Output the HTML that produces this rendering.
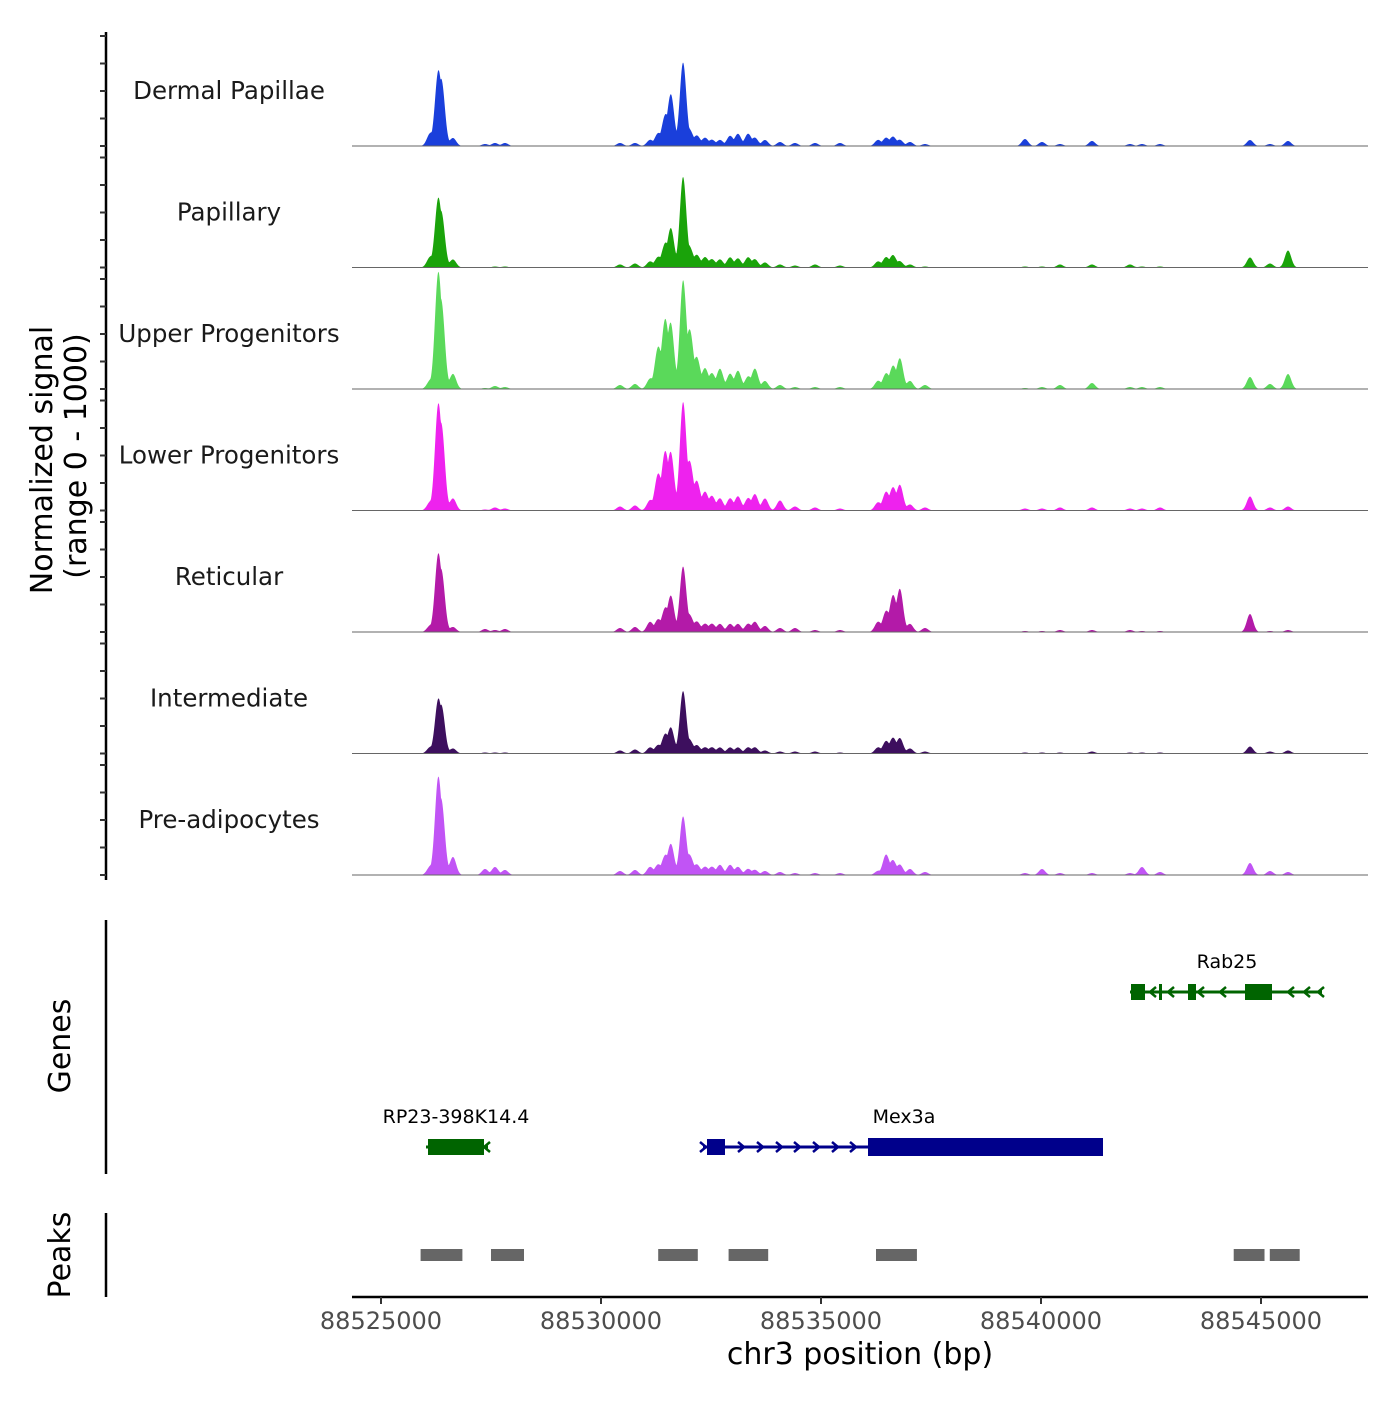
<!DOCTYPE html>
<html><head><meta charset="utf-8"><style>
body{margin:0;background:#fff}
svg text{font-family:"DejaVu Sans","Liberation Sans",sans-serif}
</style></head><body>
<svg id="chart" width="1400" height="1400" xmlns="http://www.w3.org/2000/svg">
<g id="tracks"></g>
<g id="yaxis"></g>
<text transform="translate(52,460) rotate(-90)" text-anchor="middle" font-size="30" fill="#000">Normalized signal</text>
<text transform="translate(86,456) rotate(-90)" text-anchor="middle" font-size="30" fill="#000">(range 0 - 1000)</text>
<g id="genes"></g>
<line x1="106" y1="920" x2="106" y2="1174" stroke="#000" stroke-width="2.5"/>
<text transform="translate(70,1046) rotate(-90)" text-anchor="middle" font-size="30">Genes</text>
<g id="peaks"></g>
<line x1="106" y1="1213" x2="106" y2="1297" stroke="#000" stroke-width="2.5"/>
<text transform="translate(70,1255) rotate(-90)" text-anchor="middle" font-size="30">Peaks</text>
<g id="xaxis"></g>
<text x="860" y="1364" text-anchor="middle" font-size="30">chr3 position (bp)</text>
</svg>
<script>
const trackNames = ["Dermal Papillae","Papillary","Upper Progenitors","Lower Progenitors","Reticular","Intermediate","Pre-adipocytes"];
const trackColors = ["#1a3fdb","#1aa30a","#5ad95a","#ee22ee","#b31aa8","#3d0f5e","#c154f5"];
const peakPos = [88526114,88526295,88526386,88526636,88527364,88527591,88527818,88530432,88530773,88531114,88531295,88531455,88531591,88531864,88532023,88532182,88532364,88532523,88532705,88532932,88533114,88533341,88533500,88533727,88534068,88534409,88534864,88535432,88536295,88536477,88536636,88536795,88537023,88537364,88539636,88540023,88540432,88541159,88542023,88542295,88542705,88544750,88545205,88545614];
const sigDermal = [12,66,55,8,2,3,3,3,3,6,12,28,50,83,14,10,8,6,6,10,12,12,8,6,4,3,3,3,6,8,9,6,4,2,7,4,2,5,2,2,2,6,2,5];
const sigPapillary = [10,62,45,8,0,1,1,3,4,6,10,22,38,90,18,12,10,8,8,10,9,10,8,5,3,2,3,2,6,10,12,6,3,1,1,1,3,3,3,1,1,10,4,17];
const sigUpper = [8,105,70,15,1,3,2,4,5,10,40,65,62,107,55,30,20,15,20,15,18,12,20,8,4,2,2,2,8,15,22,30,8,4,1,2,4,6,2,2,2,12,5,15];
const sigLower = [8,95,70,12,1,3,2,4,5,10,35,55,55,107,45,28,18,14,12,12,14,12,16,12,10,4,3,2,8,18,22,25,6,3,2,2,3,3,2,2,3,14,3,4];
const sigReticular = [6,70,50,5,3,2,3,4,5,10,12,22,35,65,15,10,8,8,8,8,8,8,10,6,4,4,2,2,10,20,35,42,8,4,1,1,2,2,2,1,1,18,1,2];
const sigIntermediate = [6,48,40,5,1,1,1,3,4,6,8,18,25,62,12,8,6,6,6,6,6,6,6,3,2,2,2,1,6,12,15,15,5,2,1,1,1,2,1,1,1,7,2,3];
const sigPreadipo = [8,88,60,18,6,8,5,4,5,8,10,18,30,58,18,10,8,8,10,10,8,6,5,4,3,2,2,2,4,20,14,10,6,3,2,6,2,2,2,8,3,12,4,3];
const allSignals = [sigDermal,sigPapillary,sigUpper,sigLower,sigReticular,sigIntermediate,sigPreadipo];
const xTicks = [88525000,88530000,88535000,88540000,88545000];
const peakRegions = [[88525900,88526850],[88527500,88528250],[88531300,88532200],[88532900,88533800],[88536250,88537180],[88544380,88545080],[88545200,88545880]];

const NS="http://www.w3.org/2000/svg";
const X0=352,X1=1368,BP0=88524341,BP1=88547432;
const xs=bp=>X0+(bp-BP0)/(BP1-BP0)*(X1-X0);
const ys=v=>v*1.0;
const baseY=i=>146+i*121.5;
function mk(tag,attrs,parent){const e=document.createElementNS(NS,tag);for(const k in attrs)e.setAttribute(k,attrs[k]);parent.appendChild(e);return e;}

const tg=document.getElementById('tracks');
allSignals.forEach((sig,ti)=>{
  const b=baseY(ti);
  let d=`M${X0},${b}`;
  for(let px=X0;px<=X1;px+=0.5){
    let v=0,s=0;
    sig.forEach((h,k)=>{const dx=px-xs(peakPos[k]);const g=ys(h)*Math.exp(-dx*dx/(2*3.2*3.2));if(g>v)v=g;s+=g;});
    v=v+0.35*(s-v);
    d+=`L${px},${(b-v).toFixed(2)}`;
  }
  d+=`L${X1},${b}Z`;
  const p=mk('path',{d:d,fill:trackColors[ti]},tg);
  
  
  const bl=mk('line',{x1:X0,x2:X1,y1:b,y2:b,stroke:'#666','stroke-width':1},tg);
  
  
  const t=mk('text',{x:229,y:b-47,'text-anchor':'middle','font-size':24.5,fill:'#1a1a1a'},tg);
  t.textContent=trackNames[ti];
  
  
});

const ya=document.getElementById('yaxis');
const yl=mk('line',{x1:106,x2:106,y1:32,y2:880,stroke:'#000','stroke-width':2.5},ya);


for(let ti=0;ti<7;ti++){for(let q=0;q<5;q++){const y=baseY(ti)-q*27.5;
  const tk=mk('line',{x1:100,x2:106,y1:y,y2:y,stroke:'#333','stroke-width':2},ya);
  
  }}

const gg=document.getElementById('genes');
function gene(name,x1,x2,y,color,exons,arrows,dir,lx){
  const g=mk('g',{},gg);
  
  
  mk('line',{x1:x1,x2:x2,y1:y,y2:y,stroke:color,'stroke-width':3},g);
  exons.forEach(e=>mk('rect',{x:e[0],y:y-e[2]/2,width:e[1]-e[0],height:e[2],fill:color},g));
  arrows.forEach(a=>mk('path',{d:dir>0?`M${a-4},${y-5}L${a+2},${y}L${a-4},${y+5}`:`M${a+4},${y-5}L${a-2},${y}L${a+4},${y+5}`,stroke:color,'stroke-width':2.5,fill:'none'},g));
  const t=mk('text',{x:lx,y:y-24,'text-anchor':'middle','font-size':19,fill:'#000'},g);
  t.textContent=name;
}
gene('Rab25',1130,1322,992,'#006400',[[1131,1145,16],[1159,1162,16],[1188,1196,16],[1245,1272,16]],[1152,1170,1200,1222,1290,1306,1320],-1,1227);
gene('Mex3a',703,1103,1147,'#00008B',[[707,725,16],[868,1103,18]],[704,742,761,780,798,817,836,854],1,904);
gene('RP23-398K14.4',426,488,1147,'#006400',[[428,484,16]],[430,486],-1,456);

const pg=document.getElementById('peaks');
peakRegions.forEach(r=>{
  const rc=mk('rect',{x:xs(r[0]),y:1249,width:xs(r[1])-xs(r[0]),height:12,fill:'#666'},pg);
  
  
});

const xa=document.getElementById('xaxis');
const xl=mk('line',{x1:X0,x2:X1,y1:1297,y2:1297,stroke:'#000','stroke-width':2.5},xa);


xTicks.forEach(v=>{
  const x=xs(v);
  const tk=mk('line',{x1:x,x2:x,y1:1297,y2:1304,stroke:'#333','stroke-width':2},xa);
  
  
  const t=mk('text',{x:x,y:1329,'text-anchor':'middle','font-size':24,fill:'#4d4d4d'},xa);
  t.textContent=v;
  
  
});
</script>
</body></html>
